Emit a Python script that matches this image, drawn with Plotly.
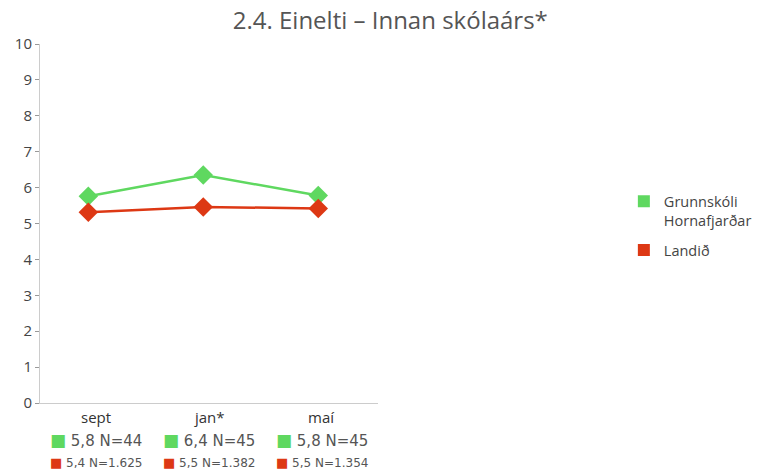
import plotly.graph_objects as go

categories = ["sept", "jan*", "maí"]
school_name = "Grunnskóli<br>Hornafjarðar"
country_name = "Landið"
school_values = [5.76, 6.35, 5.78]
country_values = [5.31, 5.46, 5.42]
school_labels = ["5,8 N=44", "6,4 N=45", "5,8 N=45"]
country_labels = ["5,4 N=1.625", "5,5 N=1.382", "5,5 N=1.354"]
y_ticks = list(range(0, 11))

GREEN = "#5fd860"
RED = "#dd3814"
FONT = "'Open Sans', sans-serif"
WIDE = "'DejaVu Sans', sans-serif"
DOMAIN_END = 0.4643

fig = go.Figure()
xs = list(range(len(categories)))
fig.add_trace(go.Scatter(x=xs, y=school_values, mode="lines+markers",
                         line=dict(color=GREEN, width=2.5),
                         marker=dict(symbol="diamond", size=15, color=GREEN),
                         showlegend=False, name="Grunnskóli Hornafjarðar"))
fig.add_trace(go.Scatter(x=xs, y=country_values, mode="lines+markers",
                         line=dict(color=RED, width=2.5),
                         marker=dict(symbol="diamond", size=15, color=RED),
                         showlegend=False, name=country_name))
# legend entries with square swatches
for k, (nm, col) in enumerate([(school_name, GREEN), (country_name, RED)]):
    fig.add_trace(go.Scatter(x=[None], y=[None], mode="markers",
                             marker=dict(symbol="square", size=13, color=col),
                             name=nm, showlegend=True, legendgroup=f"g{k}"))

n = len(categories)
for i in xs:
    bx = (i + 0.5) / n * DOMAIN_END
    fig.add_annotation(x=bx, xref="paper", y=0, yref="paper", yshift=-14,
                       xanchor="center", yanchor="middle", text=categories[i],
                       showarrow=False, font=dict(family=FONT, size=15, color="#333"))
    fig.add_annotation(x=bx, xref="paper", y=0, yref="paper", yshift=-37,
                       xanchor="center", yanchor="middle",
                       text=f"<span style='color:{GREEN};font-size:17px'>■</span> {school_labels[i]}",
                       showarrow=False, font=dict(family=WIDE, size=15, color="#555"))
    fig.add_annotation(x=bx, xref="paper", y=0, yref="paper", yshift=-59,
                       xanchor="center", yanchor="middle",
                       text=f"<span style='color:{RED};font-size:13px'>■</span> {country_labels[i]}",
                       showarrow=False, font=dict(family=WIDE, size=12, color="#555"))

fig.update_layout(
    width=760, height=462,
    margin=dict(l=32, r=0, t=36, b=67),
    paper_bgcolor="white", plot_bgcolor="white",
    title=dict(text="2.4. Einelti – Innan skólaárs*", x=0.503, xanchor="center",
               y=0.972, yanchor="middle",
               font=dict(family=FONT, size=24, color="#555")),
    font=dict(family=FONT, color="#444"),
    xaxis=dict(domain=[0, DOMAIN_END], range=[-0.42, 2.52], showticklabels=False,
               showgrid=False, zeroline=False, showline=True, linecolor="#cccccc",
               linewidth=1, ticks=""),
    yaxis=dict(range=[0, 10], tickvals=y_ticks, showgrid=False, zeroline=False,
               showline=True, linecolor="#cccccc", linewidth=1,
               ticks="outside", ticklen=4, tickcolor="#999",
               tickfont=dict(family=FONT, size=15, color="#444")),
    legend=dict(x=0.802, y=0.606, xanchor="left", yanchor="top", valign="top",
                font=dict(family=FONT, size=14.5, color="#444"),
                traceorder="grouped",
                itemsizing="constant", itemwidth=30, tracegroupgap=8),
)

fig.write_html("out.html")
